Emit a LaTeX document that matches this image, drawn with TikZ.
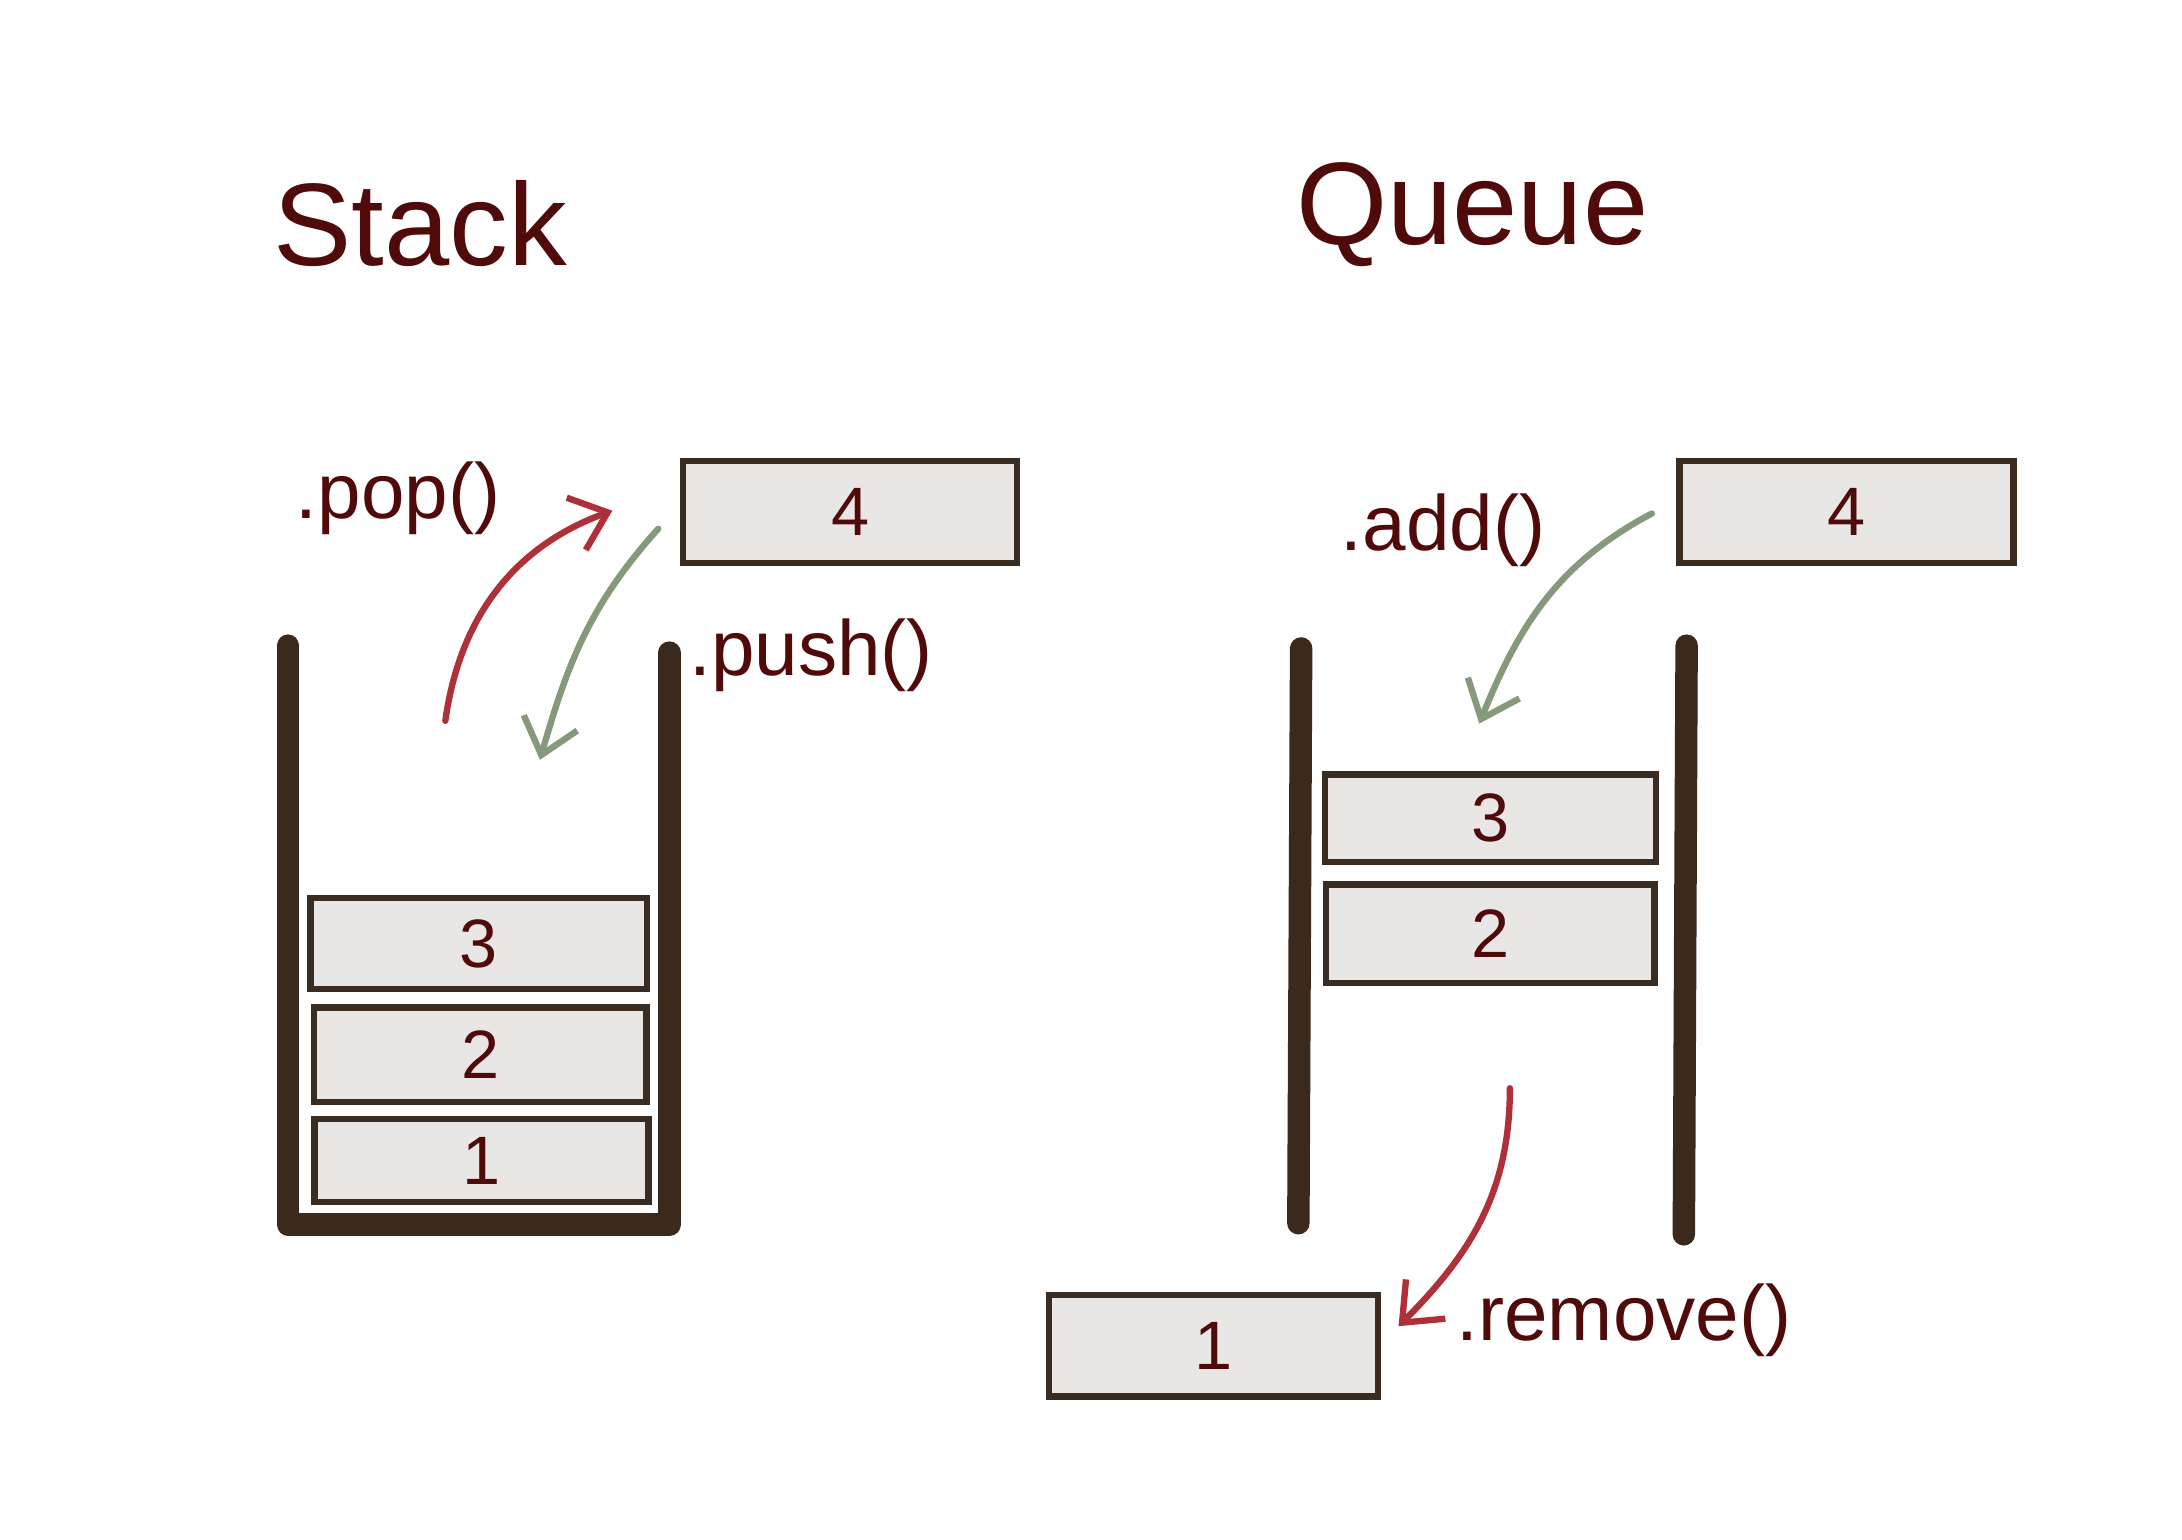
\documentclass[tikz,border=0pt]{standalone}
\usepackage{fontspec}
\setmainfont{Liberation Sans}
\usetikzlibrary{arrows.meta}

\begin{document}
\begin{tikzpicture}[
  box/.style={draw=boxline, fill=boxfill, line width=1.3pt, rectangle, inner sep=0pt, text=ink, font=\fontsize{14}{17}\selectfont},
  wall/.style={draw=wallcol, line width=4.6pt, line cap=round, line join=round},
  lbl/.style={text=ink, inner sep=0pt, font=\fontsize{16}{19}\selectfont},
  ttl/.style={text=ink, inner sep=0pt, font=\fontsize{24}{29}\selectfont},
  redarr/.style={draw=redcol, line width=1.3pt, line cap=round, -{Straight Barb[length=2.4mm,width=4mm]}},
  greenarr/.style={draw=greencol, line width=1.3pt, line cap=round, -{Straight Barb[length=2.4mm,width=4mm]}}
]
\definecolor{ink}{HTML}{500A0A}
\definecolor{boxfill}{HTML}{E9E7E5}
\definecolor{boxline}{HTML}{3A2C20}
\definecolor{wallcol}{HTML}{3B2A1C}
\definecolor{redcol}{HTML}{B0303A}
\definecolor{greencol}{HTML}{86997A}
\useasboundingbox[fill=white] (0,0) rectangle (15.68,11.06);

% stack
\node[ttl] (s_title) at (3.02,9.45) {Stack};
\draw[wall] (2.07,6.42) -- (2.07,2.26) -- (4.81,2.26) -- (4.81,6.37);

\node[box, minimum width=2.42cm, minimum height=0.65cm] (s_3) at (3.44,4.28) {3};
\node[box, minimum width=2.39cm, minimum height=0.68cm] (s_2) at (3.45,3.48) {2};
\node[box, minimum width=2.40cm, minimum height=0.60cm] (s_1) at (3.46,2.72) {1};
\node[box, minimum width=2.40cm, minimum height=0.73cm] (s_4) at (6.11,7.38) {4};

\node[lbl] (pop) at (2.86,7.48) {.pop()};
\node[lbl] (push) at (5.83,6.35) {.push()};

\coordinate (pop_a) at (3.20,5.88);
\coordinate (pop_b) at (4.40,7.39);
\coordinate (push_a) at (4.73,7.26);
\coordinate (push_b) at (3.88,5.60);
\draw[redarr] (pop_a) to[out=82, in=200] (pop_b);
\draw[greenarr] (push_a) to[out=228, in=74] (push_b);

% queue
\node[ttl] (q_title) at (10.58,9.52) {Queue};
\draw[wall] (9.35,6.40) -- (9.33,2.27);
\draw[wall] (12.12,6.42) -- (12.10,2.19);

\node[box, minimum width=2.38cm, minimum height=0.63cm] (q_3) at (10.71,5.18) {3};
\node[box, minimum width=2.36cm, minimum height=0.71cm] (q_2) at (10.71,4.35) {2};
\node[box, minimum width=2.36cm, minimum height=0.73cm] (q_1) at (8.72,1.39) {1};
\node[box, minimum width=2.40cm, minimum height=0.73cm] (q_4) at (13.27,7.38) {4};

\node[lbl] (add) at (10.37,7.25) {.add()};
\node[lbl] (remove) at (11.67,1.57) {.remove()};

\coordinate (add_a) at (11.87,7.37);
\coordinate (add_b) at (10.63,5.86);
\coordinate (rem_a) at (10.85,3.24);
\coordinate (rem_b) at (10.05,1.53);
\draw[greenarr] (add_a) to[out=208, in=68] (add_b);
\draw[redarr] (rem_a) to[out=270, in=45] (rem_b);

\end{tikzpicture}
\end{document}
